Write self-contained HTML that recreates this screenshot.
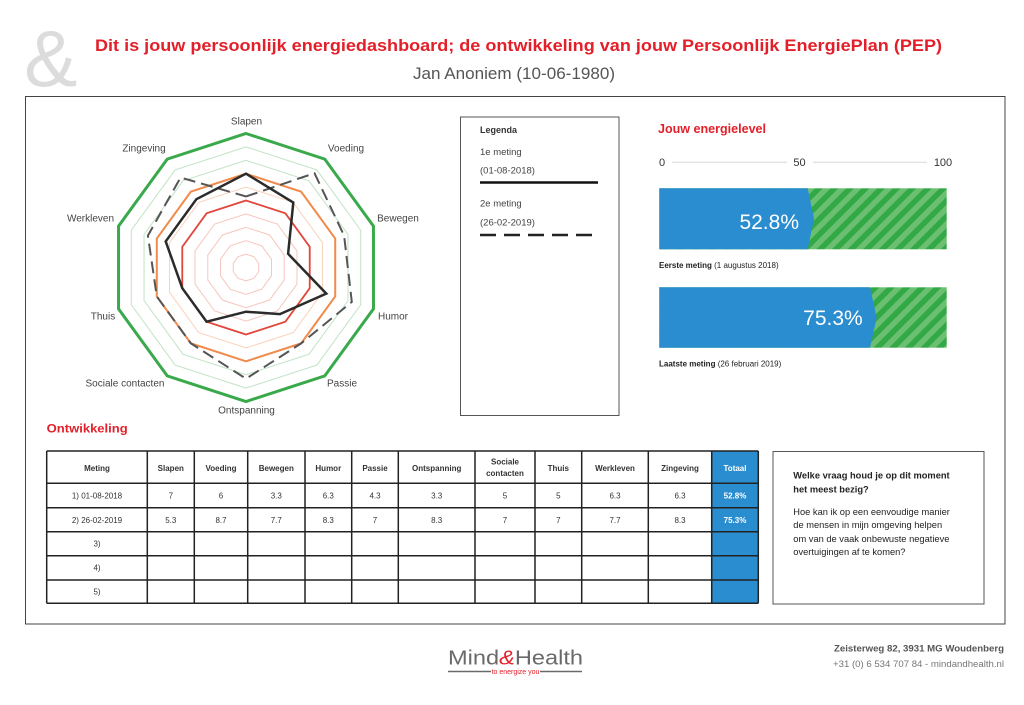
<!DOCTYPE html>
<html><head><meta charset="utf-8"><style>
html,body{margin:0;padding:0;background:#fff;}
svg{display:block;}
text{font-family:"Liberation Sans",sans-serif;}
</style></head><body>
<svg width="1024" height="705" viewBox="0 0 1024 705" xmlns="http://www.w3.org/2000/svg">
<defs>
<pattern id="str" width="11" height="11" patternUnits="userSpaceOnUse" patternTransform="rotate(45)">
<rect x="0" y="0" width="11" height="11" fill="#33a846"/>
<rect x="0" y="0" width="5.5" height="11" fill="#6bbf70"/>
</pattern>
</defs>
<rect width="1024" height="705" fill="#fff"/>
<!-- ampersand -->
<text x="24" y="86" font-size="80" fill="#dcdcdc">&amp;</text>
<!-- header -->
<text x="95" y="51" font-size="17" font-weight="bold" fill="#e3202a" textLength="847" lengthAdjust="spacingAndGlyphs">Dit is jouw persoonlijk energiedashboard; de ontwikkeling van jouw Persoonlijk EnergiePlan (PEP)</text>
<text x="413" y="79" font-size="17" fill="#555" textLength="202" lengthAdjust="spacingAndGlyphs">Jan Anoniem (10-06-1980)</text>
<!-- main box -->
<rect x="25.5" y="96.5" width="979.5" height="527.5" fill="none" stroke="#444" stroke-width="1"/>

<!-- radar rings -->
<g fill="none">
<polygon transform="translate(246 267.5) scale(13.4)" stroke="#f6c6bd" stroke-width="0.0746" points="0,-1 0.5878,-0.809 0.9511,-0.309 0.9511,0.309 0.5878,0.809 0,1 -0.5878,0.809 -0.9511,0.309 -0.9511,-0.309 -0.5878,-0.809"/>
<polygon transform="translate(246 267.5) scale(26.8)" stroke="#f6c6bd" stroke-width="0.0373" points="0,-1 0.5878,-0.809 0.9511,-0.309 0.9511,0.309 0.5878,0.809 0,1 -0.5878,0.809 -0.9511,0.309 -0.9511,-0.309 -0.5878,-0.809"/>
<polygon transform="translate(246 267.5) scale(40.2)" stroke="#f6c6bd" stroke-width="0.0249" points="0,-1 0.5878,-0.809 0.9511,-0.309 0.9511,0.309 0.5878,0.809 0,1 -0.5878,0.809 -0.9511,0.309 -0.9511,-0.309 -0.5878,-0.809"/>
<polygon transform="translate(246 267.5) scale(53.6)" stroke="#f6c6bd" stroke-width="0.01866" points="0,-1 0.5878,-0.809 0.9511,-0.309 0.9511,0.309 0.5878,0.809 0,1 -0.5878,0.809 -0.9511,0.309 -0.9511,-0.309 -0.5878,-0.809"/>
<polygon transform="translate(246 267.5) scale(67)" stroke="#e2473c" stroke-width="0.02687" points="0,-1 0.5878,-0.809 0.9511,-0.309 0.9511,0.309 0.5878,0.809 0,1 -0.5878,0.809 -0.9511,0.309 -0.9511,-0.309 -0.5878,-0.809"/>
<polygon transform="translate(246 267.5) scale(80.4)" stroke="#f9d2ba" stroke-width="0.01244" points="0,-1 0.5878,-0.809 0.9511,-0.309 0.9511,0.309 0.5878,0.809 0,1 -0.5878,0.809 -0.9511,0.309 -0.9511,-0.309 -0.5878,-0.809"/>
<polygon transform="translate(246 267.5) scale(93.8)" stroke="#f08b4b" stroke-width="0.02132" points="0,-1 0.5878,-0.809 0.9511,-0.309 0.9511,0.309 0.5878,0.809 0,1 -0.5878,0.809 -0.9511,0.309 -0.9511,-0.309 -0.5878,-0.809"/>
<polygon transform="translate(246 267.5) scale(107.2)" stroke="#bfe3c5" stroke-width="0.00933" points="0,-1 0.5878,-0.809 0.9511,-0.309 0.9511,0.309 0.5878,0.809 0,1 -0.5878,0.809 -0.9511,0.309 -0.9511,-0.309 -0.5878,-0.809"/>
<polygon transform="translate(246 267.5) scale(120.6)" stroke="#bfe3c5" stroke-width="0.00829" points="0,-1 0.5878,-0.809 0.9511,-0.309 0.9511,0.309 0.5878,0.809 0,1 -0.5878,0.809 -0.9511,0.309 -0.9511,-0.309 -0.5878,-0.809"/>
<polygon transform="translate(246 267.5) scale(134)" stroke="#3aa94b" stroke-width="0.02239" points="0,-1 0.5878,-0.809 0.9511,-0.309 0.9511,0.309 0.5878,0.809 0,1 -0.5878,0.809 -0.9511,0.309 -0.9511,-0.309 -0.5878,-0.809"/>
</g>
<!-- data 2 dashed -->
<polygon points="246,196.5 314.5,173.2 344.1,235.6 351.8,301.9 301.1,343.4 246,378.7 190.9,343.4 156.8,296.5 147.9,235.6 180.6,177.5" fill="none" stroke="#555" stroke-width="2" stroke-dasharray="12,6"/>
<!-- data 1 solid -->
<polygon points="246,173.7 293.3,202.5 288.1,253.8 326.3,293.6 279.9,314.1 246,311.7 206.6,321.7 182.3,288.2 165.7,241.4 196.4,199.2" fill="none" stroke="#2b2b2b" stroke-width="2.5" stroke-linejoin="miter"/>
<!-- radar labels -->
<g font-size="10" fill="#444" text-anchor="middle">
<text x="246.5" y="124.5">Slapen</text>
<text x="346" y="151.5">Voeding</text>
<text x="398" y="221.5">Bewegen</text>
<text x="393" y="319.5">Humor</text>
<text x="342" y="386.5">Passie</text>
<text x="246.5" y="413.5">Ontspanning</text>
<text x="125" y="386.5">Sociale contacten</text>
<text x="103" y="319.5">Thuis</text>
<text x="90.5" y="221.5">Werkleven</text>
<text x="144" y="151.5">Zingeving</text>
</g>

<!-- legend box -->
<rect x="460.5" y="117" width="158.5" height="298.5" fill="none" stroke="#555" stroke-width="1"/>
<text x="480" y="133" font-size="9" font-weight="bold" fill="#333">Legenda</text>
<text x="480" y="155" font-size="9.5" fill="#444">1e meting</text>
<text x="480" y="173.5" font-size="9.5" fill="#444">(01-08-2018)</text>
<line x1="480" y1="182.5" x2="598" y2="182.5" stroke="#111" stroke-width="2.5"/>
<text x="480" y="206.5" font-size="9.5" fill="#444">2e meting</text>
<text x="480" y="225.5" font-size="9.5" fill="#444">(26-02-2019)</text>
<line x1="480" y1="235" x2="596" y2="235" stroke="#222" stroke-width="2.5" stroke-dasharray="16,8"/>

<!-- energy section -->
<text x="658" y="133" font-size="13" font-weight="bold" fill="#e3202a" textLength="108" lengthAdjust="spacingAndGlyphs">Jouw energielevel</text>
<text x="662" y="166" font-size="11" fill="#333" text-anchor="middle">0</text>
<text x="799.5" y="166" font-size="11" fill="#333" text-anchor="middle">50</text>
<text x="943" y="166" font-size="11" fill="#333" text-anchor="middle">100</text>
<line x1="672" y1="162.3" x2="787" y2="162.3" stroke="#d8d8d8" stroke-width="1"/>
<line x1="813" y1="162.3" x2="927" y2="162.3" stroke="#d8d8d8" stroke-width="1"/>

<rect x="659.3" y="188.3" width="287.4" height="61" fill="url(#str)"/>
<polygon points="659.3,188.3 807.7,188.3 814,218.8 807.7,249.3 659.3,249.3" fill="#2a8dd0"/>
<text x="799" y="229" font-size="21" fill="#fff" text-anchor="end">52.8%</text>
<text x="659" y="268" font-size="8" fill="#222"><tspan font-weight="bold">Eerste meting</tspan> (1 augustus 2018)</text>

<rect x="659.3" y="287.3" width="287.4" height="60.4" fill="url(#str)"/>
<polygon points="659.3,287.3 870,287.3 876.7,317.5 870,347.7 659.3,347.7" fill="#2a8dd0"/>
<text x="862.7" y="325" font-size="21" fill="#fff" text-anchor="end">75.3%</text>
<text x="659" y="366.5" font-size="8" fill="#222"><tspan font-weight="bold">Laatste meting</tspan> (26 februari 2019)</text>

<!-- Ontwikkeling -->
<text x="46.7" y="432.5" font-size="12" font-weight="bold" fill="#e3202a" textLength="81" lengthAdjust="spacingAndGlyphs">Ontwikkeling</text>

<!-- table -->
<rect x="711.7" y="451" width="46.6" height="152.3" fill="#2a8dd0"/>
<g stroke="#222" stroke-width="1.5">
<line x1="46.7" y1="451" x2="758.3" y2="451"/>
<line x1="46.7" y1="483.3" x2="758.3" y2="483.3"/>
<line x1="46.7" y1="507.7" x2="758.3" y2="507.7"/>
<line x1="46.7" y1="531.7" x2="758.3" y2="531.7"/>
<line x1="46.7" y1="555.7" x2="758.3" y2="555.7"/>
<line x1="46.7" y1="580" x2="758.3" y2="580"/>
<line x1="46.7" y1="603.3" x2="758.3" y2="603.3"/>
<line x1="46.7" y1="451" x2="46.7" y2="603.3"/>
<line x1="147.3" y1="451" x2="147.3" y2="603.3"/>
<line x1="194.3" y1="451" x2="194.3" y2="603.3"/>
<line x1="247.7" y1="451" x2="247.7" y2="603.3"/>
<line x1="305" y1="451" x2="305" y2="603.3"/>
<line x1="351.7" y1="451" x2="351.7" y2="603.3"/>
<line x1="398.3" y1="451" x2="398.3" y2="603.3"/>
<line x1="475" y1="451" x2="475" y2="603.3"/>
<line x1="535" y1="451" x2="535" y2="603.3"/>
<line x1="581.7" y1="451" x2="581.7" y2="603.3"/>
<line x1="648.3" y1="451" x2="648.3" y2="603.3"/>
<line x1="711.7" y1="451" x2="711.7" y2="603.3"/>
<line x1="758.3" y1="451" x2="758.3" y2="603.3"/>
</g>
<g font-size="8" font-weight="bold" fill="#333" text-anchor="middle">
<text x="97" y="471">Meting</text>
<text x="170.8" y="471">Slapen</text>
<text x="221" y="471">Voeding</text>
<text x="276.3" y="471">Bewegen</text>
<text x="328.3" y="471">Humor</text>
<text x="375" y="471">Passie</text>
<text x="436.7" y="471">Ontspanning</text>
<text x="505" y="464.5">Sociale</text>
<text x="505" y="476">contacten</text>
<text x="558.3" y="471">Thuis</text>
<text x="615" y="471">Werkleven</text>
<text x="680" y="471">Zingeving</text>
<text x="735" y="471" fill="#fff">Totaal</text>
</g>
<g font-size="8" fill="#333" text-anchor="middle">
<text x="97" y="498.5">1) 01-08-2018</text>
<text x="170.8" y="498.5">7</text>
<text x="221" y="498.5">6</text>
<text x="276.3" y="498.5">3.3</text>
<text x="328.3" y="498.5">6.3</text>
<text x="375" y="498.5">4.3</text>
<text x="436.7" y="498.5">3.3</text>
<text x="505" y="498.5">5</text>
<text x="558.3" y="498.5">5</text>
<text x="615" y="498.5">6.3</text>
<text x="680" y="498.5">6.3</text>
<text x="735" y="498.5" fill="#fff" font-weight="bold">52.8%</text>
<text x="97" y="523">2) 26-02-2019</text>
<text x="170.8" y="523">5.3</text>
<text x="221" y="523">8.7</text>
<text x="276.3" y="523">7.7</text>
<text x="328.3" y="523">8.3</text>
<text x="375" y="523">7</text>
<text x="436.7" y="523">8.3</text>
<text x="505" y="523">7</text>
<text x="558.3" y="523">7</text>
<text x="615" y="523">7.7</text>
<text x="680" y="523">8.3</text>
<text x="735" y="523" fill="#fff" font-weight="bold">75.3%</text>
<text x="97" y="546.5">3)</text>
<text x="97" y="570.5">4)</text>
<text x="97" y="594.5">5)</text>
</g>

<!-- question box -->
<rect x="773" y="451.5" width="211" height="152.5" fill="none" stroke="#555" stroke-width="1"/>
<g font-size="9.3" fill="#222">
<text x="793.3" y="478.5" font-weight="bold">Welke vraag houd je op dit moment</text>
<text x="793.3" y="492.5" font-weight="bold">het meest bezig?</text>
<text x="793.3" y="515">Hoe kan ik op een eenvoudige manier</text>
<text x="793.3" y="528">de mensen in mijn omgeving helpen</text>
<text x="793.3" y="542">om van de vaak onbewuste negatieve</text>
<text x="793.3" y="555">overtuigingen af te komen?</text>
</g>

<!-- footer logo -->
<text x="448" y="664.5" font-size="20" fill="#6a6a6a" textLength="135" lengthAdjust="spacingAndGlyphs">Mind<tspan fill="#e3202a" font-style="italic">&amp;</tspan>Health</text>
<line x1="448" y1="671.5" x2="491" y2="671.5" stroke="#6a6a6a" stroke-width="1.5"/>
<line x1="540" y1="671.5" x2="582" y2="671.5" stroke="#6a6a6a" stroke-width="1.5"/>
<text x="515.5" y="674" font-size="7" fill="#e3202a" text-anchor="middle">to energize you</text>
<!-- address -->
<text x="1004" y="651.5" font-size="9" font-weight="bold" fill="#555" text-anchor="end" textLength="170" lengthAdjust="spacingAndGlyphs">Zeisterweg 82, 3931 MG Woudenberg</text>
<text x="1004" y="667" font-size="9" fill="#777" text-anchor="end" textLength="171" lengthAdjust="spacingAndGlyphs">+31 (0) 6 534 707 84 - mindandhealth.nl</text>
</svg>
</body></html>
